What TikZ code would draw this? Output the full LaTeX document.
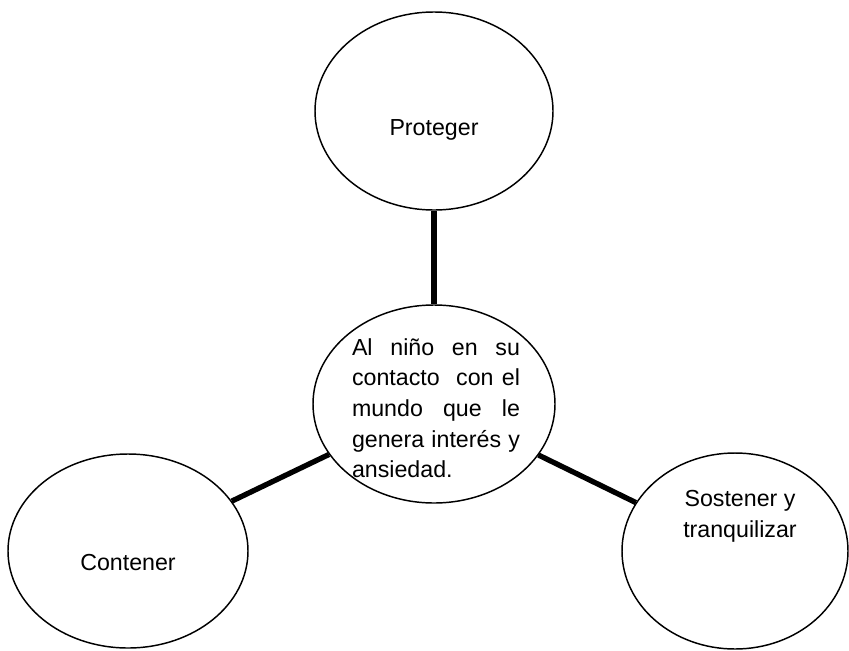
\documentclass[tikz,border=0pt]{standalone}
\usepackage{fontspec}
\setmainfont{Liberation Sans}
\usetikzlibrary{shapes.geometric}

\begin{document}
\begin{tikzpicture}[x=0.75pt,y=-0.75pt,
  globo/.style={draw,ellipse,line width=1.1pt,inner sep=0pt},
  texto/.style={font=\fontsize{17.4}{23}\selectfont,inner sep=0pt,anchor=base},
  enlace/.style={line width=4pt}]
\useasboundingbox (0,0) rectangle (849,650);

\draw (434,111) node (pro) [globo,minimum width=178.5pt,minimum height=148.5pt] {};
\draw (434,135) node (prot) [texto] {Proteger};

\draw (434,404) node (nino) [globo,minimum width=181.5pt,minimum height=148.5pt] {};
\draw (436,355) node (ninot) [texto,text width=126pt,align=justify]
  {Al niño en su\linebreak contacto\ \ con el\linebreak mundo que le\linebreak genera interés y\linebreak ansiedad.};

\draw (128,551) node (con) [globo,minimum width=180pt,minimum height=145.5pt] {};
\draw (128,570) node (cont) [texto] {Contener};

\draw (735,551) node (sos) [globo,minimum width=169.5pt,minimum height=147pt] {};
\draw (740,537) node (sost) [texto,align=center] {Sostener y\\tranquilizar};

\draw [enlace] (pro) -- (nino);
\draw [enlace] (con) -- (nino);
\draw [enlace] (nino) -- (sos);
\end{tikzpicture}
\end{document}
